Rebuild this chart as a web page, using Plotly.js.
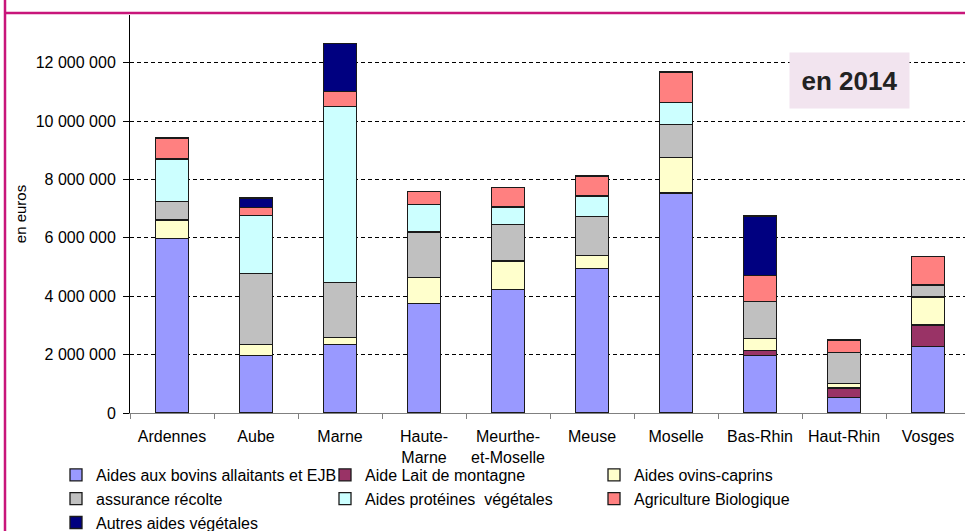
<!DOCTYPE html>
<html>
<head>
<meta charset="utf-8">
<script src="https://cdn.plot.ly/plotly-3.0.1.min.js"></script>
<style>
html,body{margin:0;padding:0;overflow:hidden;background:#fff;}
#wrap{width:965px;height:531px;overflow:hidden;position:relative;}
#chart{width:965px;height:545px;}
</style>
</head>
<body>
<div id="wrap"><div id="chart"></div></div>
<script>
// Categories (departments)
var departements = ["Ardennes", "Aube", "Marne", "Haute-<br>Marne", "Meurthe-<br>et-Moselle", "Meuse", "Moselle", "Bas-Rhin", "Haut-Rhin", "Vosges"];

// Series values (euros)
var bovins     = [5970000, 1980000, 2350000, 3750000, 4240000, 4950000, 7530000, 1960000, 540000, 2280000];
var laitMont   = [0, 0, 0, 0, 0, 0, 0, 190000, 320000, 730000];
var ovins      = [640000, 370000, 230000, 890000, 970000, 440000, 1220000, 410000, 160000, 960000];
var assurance  = [640000, 2420000, 1890000, 1560000, 1240000, 1350000, 1130000, 1260000, 1050000, 390000];
var proteines  = [1450000, 2000000, 6030000, 950000, 610000, 690000, 760000, 0, 0, 40000];
var bio        = [720000, 270000, 500000, 440000, 670000, 690000, 1040000, 880000, 430000, 950000];
var autres     = [0, 320000, 1650000, 0, 0, 0, 0, 2050000, 0, 0];

var seriesNames = ["Aides aux bovins allaitants et EJB", "Aide Lait de montagne", "Aides ovins-caprins",
                   "assurance récolte", "Aides protéines  végétales", "Agriculture Biologique", "Autres aides végétales"];
var seriesValues = [bovins, laitMont, ovins, assurance, proteines, bio, autres];
var seriesColors = ["#9999FF", "#993366", "#FFFFCC", "#C0C0C0", "#CCFFFF", "#FF8080", "#000080"];

// Tick labels
var yTickVals = [0, 2000000, 4000000, 6000000, 8000000, 10000000, 12000000];
var yTickText = ["0", "2 000 000", "4 000 000", "6 000 000", "8 000 000", "10 000 000", "12 000 000"];

var FONT = "Liberation Sans, Arial, Helvetica, sans-serif";

var traces = seriesNames.map(function (name, i) {
  return {
    type: "bar",
    name: name.replace(/  /g, "&nbsp; "),
    x: departements,
    y: seriesValues[i],
    marker: { color: seriesColors[i], line: { color: "#1a1a1a", width: 1.3 } },
    hoverinfo: "x+y+name"
  };
});

// plot area geometry helpers (pixel -> paper)
var W = 965, H = 545, ML = 130, MR = 0, MT = 15, MB = 132;
var PW = W - ML - MR, PH = H - MT - MB;
function px(x) { return (x - ML) / PW; }
function py(y) { return (H - MB - y) / PH; }

var layout = {
  width: W, height: H,
  margin: { l: ML, r: MR, t: MT, b: MB, pad: 0 },
  paper_bgcolor: "#ffffff",
  plot_bgcolor: "#ffffff",
  barmode: "stack",
  bargap: 0.607,
  font: { family: FONT, size: 16, color: "#000" },
  showlegend: true,
  legend: {
    orientation: "h",
    traceorder: "normal",
    x: px(56), y: py(458), xanchor: "left", yanchor: "top",
    entrywidth: 224, entrywidthmode: "pixels",
    font: { family: FONT, size: 16, color: "#000" },
    bgcolor: "rgba(0,0,0,0)"
  },
  xaxis: {
    type: "category",
    range: [-0.5, 9.44],
    showline: true, linecolor: "#808080", linewidth: 1,
    ticks: "outside", tickson: "boundaries", ticklen: 5, tickcolor: "#808080", tickwidth: 1,
    ticklabelstandoff: 9,
    showgrid: false, zeroline: false,
    tickfont: { family: FONT, size: 16, color: "#000" },
    fixedrange: true
  },
  yaxis: {
    range: [0, 13630000],
    tickvals: yTickVals, ticktext: yTickText,
    showline: true, linecolor: "#000", linewidth: 1,
    ticks: "outside", ticklen: 6, tickcolor: "#000",
    ticklabelstandoff: 4,
    showgrid: true, gridcolor: "#000", gridwidth: 1, griddash: "4px,3px",
    zeroline: false,
    tickfont: { family: FONT, size: 16, color: "#000" },
    title: { text: "en euros", font: { family: FONT, size: 15, color: "#000" }, standoff: 5 },
    fixedrange: true
  },
  shapes: [
    { type: "line", xref: "paper", yref: "paper", x0: px(5), x1: px(5), y0: py(0), y1: py(545),
      line: { color: "#C8157A", width: 2.5 } },
    { type: "line", xref: "paper", yref: "paper", x0: px(4), x1: px(966), y0: py(13), y1: py(13),
      line: { color: "#C8157A", width: 2.5 } }
  ],
  annotations: [
    { xref: "paper", yref: "paper", x: px(849.5), y: py(80), xanchor: "center", yanchor: "middle",
      text: "<b>en 2014</b>", showarrow: false,
      width: 119, height: 55, bgcolor: "#F2E4EF", borderpad: 0,
      font: { family: FONT, size: 26, color: "#222" } }
  ]
};

Plotly.newPlot("chart", traces, layout, { displayModeBar: false, staticPlot: true });
</script>
</body>
</html>
